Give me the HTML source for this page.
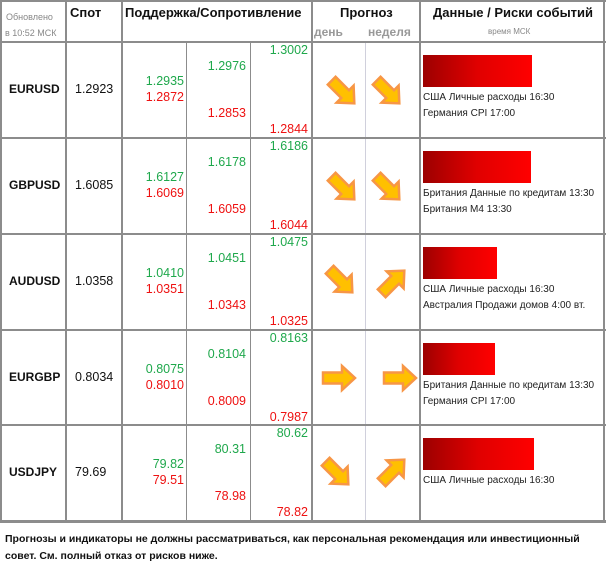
<!DOCTYPE html><html><head><meta charset="utf-8"><style>
body{margin:0;width:606px;height:567px;background:#fff;position:relative;font-family:"Liberation Sans",sans-serif;overflow:hidden}
.a{position:absolute;white-space:nowrap}
.v{position:absolute;top:0;width:2px;background:#8c8c8c}
.h{position:absolute;left:0;width:606px;height:2px;background:#8c8c8c}
.g{color:#1fa84c}.r{color:#ee1111}
.n{font-size:12.5px;text-align:right}
.b{font-weight:bold;font-size:13px;color:#111}
.p{font-weight:bold;font-size:12px;color:#111}
.bar{position:absolute;left:423px;height:32px;background:linear-gradient(to right,#9c0000,#e00000 50%,#ff0000)}
.ev{font-size:10px;color:#222}
</style></head><body>
<div class="v" style="left:0;height:522px"></div>
<div class="v" style="left:65px;height:522px"></div>
<div class="v" style="left:121px;height:522px"></div>
<div class="v" style="left:311px;height:522px"></div>
<div class="v" style="left:419px;height:522px"></div>
<div class="v" style="left:603px;height:522px"></div>
<div class="v" style="left:186px;top:42px;height:480px;width:1px"></div>
<div class="v" style="left:250px;top:42px;height:480px;width:1px"></div>
<div class="v" style="left:365px;top:42px;height:480px;width:1px;background:#d0d0dc"></div>
<div class="h" style="top:0"></div>
<div class="h" style="top:41px"></div>
<div class="h" style="top:137px"></div>
<div class="h" style="top:233px"></div>
<div class="h" style="top:329px"></div>
<div class="h" style="top:424px"></div>
<div class="h" style="top:520px;height:3px"></div>
<div class="a" style="left:6px;top:12px;font-size:9px;color:#888">Обновлено</div>
<div class="a" style="left:5px;top:28px;font-size:9px;color:#888">в 10:52 МСК</div>
<div class="a b" style="left:70px;top:5px">Спот</div>
<div class="a b" style="left:125px;top:5px">Поддержка/Сопротивление</div>
<div class="a b" style="left:340px;top:5px">Прогноз</div>
<div class="a" style="left:314px;top:25px;font-size:12px;font-weight:bold;color:#999">день</div>
<div class="a" style="left:368px;top:25px;font-size:12px;font-weight:bold;color:#999">неделя</div>
<div class="a b" style="left:433px;top:5px">Данные / Риски событий</div>
<div class="a" style="left:488px;top:27px;font-size:8px;color:#888">время МСК</div>
<svg width="606" height="567" style="position:absolute;left:0;top:0">
<defs><path id="ar" d="M-16,-5.5 L3,-5.5 L3,-12 L16,0 L3,12 L3,5.5 L-16,5.5Z" fill="#ffc000" stroke="#f79646" stroke-width="2.5" stroke-linejoin="miter"/></defs>
<use href="#ar" transform="translate(343,92) rotate(45)"/>
<use href="#ar" transform="translate(388,92) rotate(45)"/>
<use href="#ar" transform="translate(343,188) rotate(45)"/>
<use href="#ar" transform="translate(388,188) rotate(45)"/>
<use href="#ar" transform="translate(341,281) rotate(45)"/>
<use href="#ar" transform="translate(393,282) rotate(-45)"/>
<use href="#ar" transform="translate(339,378)"/>
<use href="#ar" transform="translate(400,378)"/>
<use href="#ar" transform="translate(337,473) rotate(45)"/>
<use href="#ar" transform="translate(393,471) rotate(-45)"/>
</svg>
<div id="rows"></div>
<script>
var d=[["EURUSD","1.2923","1.3002","1.2976","1.2935","1.2872","1.2853","1.2844",109,["США Личные расходы 16:30","Германия CPI 17:00"]],
["GBPUSD","1.6085","1.6186","1.6178","1.6127","1.6069","1.6059","1.6044",108,["Британия Данные по кредитам 13:30","Британия M4 13:30"]],
["AUDUSD","1.0358","1.0475","1.0451","1.0410","1.0351","1.0343","1.0325",74,["США Личные расходы 16:30","Австралия Продажи домов 4:00 вт."]],
["EURGBP","0.8034","0.8163","0.8104","0.8075","0.8010","0.8009","0.7987",72,["Британия Данные по кредитам 13:30","Германия CPI 17:00"]],
["USDJPY","79.69","80.62","80.31","79.82","79.51","78.98","78.82",111,["США Личные расходы 16:30"]]];
var tops=[42,138,234,330,425],h="";
d.forEach(function(r,i){var t=tops[i];
h+='<div class="a p" style="left:9px;top:'+(t+40)+'px">'+r[0]+'</div>';
h+='<div class="a" style="left:75px;top:'+(t+40)+'px;font-size:12.5px;color:#111">'+r[1]+'</div>';
function n(v,c,x,y){h+='<div class="a n '+c+'" style="right:'+(606-x)+'px;top:'+(t+y)+'px">'+v+'</div>';}
n(r[2],"g",308,1);n(r[3],"g",246,17);n(r[4],"g",184,32);n(r[5],"r",184,48);n(r[6],"r",246,64);n(r[7],"r",308,80);
h+='<div class="bar" style="top:'+(t+13)+'px;width:'+r[8]+'px"></div>';
r[9].forEach(function(e,j){h+='<div class="a ev" style="left:423px;top:'+(t+50+j*16)+'px">'+e+'</div>';});});
document.getElementById("rows").innerHTML=h;
</script>
<div class="a" style="left:5px;top:531px;font-size:10.5px;font-weight:bold;color:#111;line-height:17px">Прогнозы и индикаторы не должны рассматриваться, как персональная рекомендация или инвестиционный<br>совет. См. полный отказ от рисков ниже.</div>
</body></html>
